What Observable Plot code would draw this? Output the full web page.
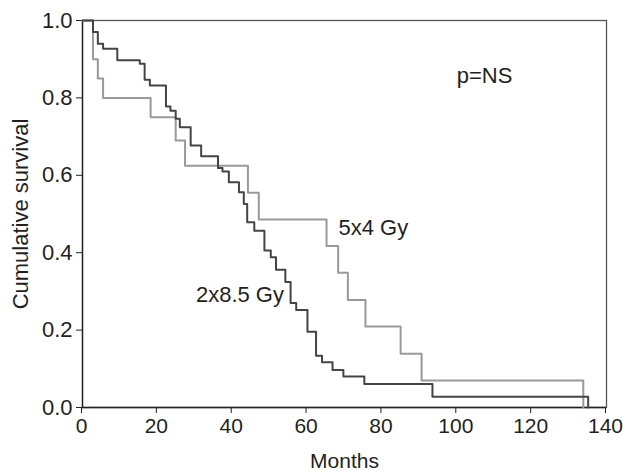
<!DOCTYPE html>
<html>
<head>
<meta charset="utf-8">
<script src="https://cdn.jsdelivr.net/npm/d3@7"></script>
<script src="https://cdn.jsdelivr.net/npm/@observablehq/plot@0.6"></script>
<style>
  html, body { margin: 0; padding: 0; background: #fff; }
  #chart { width: 623px; height: 471px; }
  svg { font-family: "Liberation Sans", Arial, sans-serif; }
</style>
</head>
<body>
<div id="chart"></div>
<script>
// 2x8.5 Gy arm (dark curve): event months and cumulative survival after each step
const darkMonths = [0, 2.8, 4.1, 5.5, 9.3, 15.3, 16.6, 18.0, 22.3, 23.5, 24.9, 26.0, 28.9, 31.7, 36.2, 37.4, 39.1, 41.8, 43.1, 44.0, 45.9, 48.6, 50.3, 51.7, 54.2, 55.6, 57.1, 60.1, 62.4, 64.0, 66.8, 69.7, 75.3, 93.5, 135.1];
const darkSurv   = [1.0, 0.970, 0.940, 0.927, 0.897, 0.888, 0.847, 0.832, 0.778, 0.767, 0.746, 0.724, 0.677, 0.649, 0.619, 0.610, 0.582, 0.556, 0.526, 0.479, 0.457, 0.406, 0.388, 0.356, 0.324, 0.270, 0.252, 0.196, 0.134, 0.117, 0.097, 0.080, 0.061, 0.028, 0.0];

// 5x4 Gy arm (light curve)
const lightMonths = [0, 2.8, 4.1, 5.5, 18.2, 24.9, 27.4, 44.2, 47.1, 65.2, 68.3, 70.9, 75.6, 85.0, 90.6, 133.8];
const lightSurv   = [1.0, 0.90, 0.85, 0.80, 0.75, 0.69, 0.625, 0.555, 0.486, 0.417, 0.348, 0.278, 0.209, 0.139, 0.070, 0.0];

const xTicks = [0, 20, 40, 60, 80, 100, 120, 140];
const yTicks = [0, 0.2, 0.4, 0.6, 0.8, 1.0];
const annotations = ["p=NS", "5x4 Gy", "2x8.5 Gy"];

const dark = darkMonths.map((m, i) => ({month: m, surv: darkSurv[i]}));
const light = lightMonths.map((m, i) => ({month: m, surv: lightSurv[i]}));

const chart = Plot.plot({
  width: 623,
  height: 471,
  marginLeft: 82,
  marginRight: 17,
  marginTop: 20,
  marginBottom: 64,
  style: {fontSize: "22px", fontFamily: "Liberation Sans, Arial, sans-serif", color: "#231f20", background: "#fff"},
  x: {domain: [0, 140]},
  y: {domain: [0, 1]},
  marks: [
    Plot.frame({stroke: "#555", strokeWidth: 1.3}),
    Plot.axisX(xTicks, {tickSize: 6, tickPadding: 5, fontSize: 21, dx: -1, label: "Months", labelAnchor: "center", labelArrow: "none", labelOffset: 60}),
    Plot.axisY(yTicks, {tickSize: 6, tickPadding: 4, fontSize: 22, tickFormat: d3.format(".1f"), label: "Cumulative survival", labelAnchor: "center", labelArrow: "none", labelOffset: 70}),
    Plot.ruleX([0], {stroke: "#231f20", strokeWidth: 1.3}),
    Plot.ruleY([0], {stroke: "#231f20", strokeWidth: 1.3}),
    Plot.line(light, {x: "month", y: "surv", curve: "step-after", stroke: "#999", strokeWidth: 2}),
    Plot.line(dark, {x: "month", y: "surv", curve: "step-after", stroke: "#444", strokeWidth: 2}),
    Plot.text([annotations[0]], {x: 107.4, y: 0.858, text: d => d, fontSize: 22, fill: "#231f20"}),
    Plot.text([annotations[1]], {x: 68.4, y: 0.465, text: d => d, textAnchor: "start", fontSize: 22, fill: "#231f20"}),
    Plot.text([annotations[2]], {x: 30.3, y: 0.292, text: d => d, textAnchor: "start", fontSize: 22, fill: "#231f20"})
  ]
});
document.getElementById("chart").appendChild(chart);
</script>
</body>
</html>
